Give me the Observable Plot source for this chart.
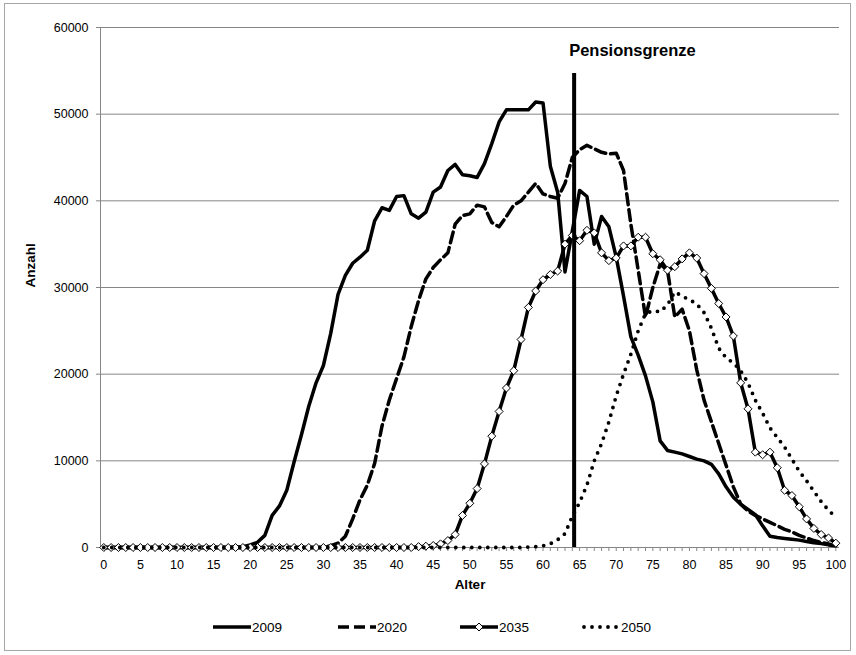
<!DOCTYPE html>
<html><head><meta charset="utf-8">
<script src="https://cdn.jsdelivr.net/npm/d3@7"></script>
<script src="https://cdn.jsdelivr.net/npm/@observablehq/plot@0.6"></script>
<style>
body{margin:0;background:#fff;}
#wrap{position:relative;width:856px;height:655px;font-family:"Liberation Sans",Arial,sans-serif;}
#frame{position:absolute;left:4px;top:3px;width:847px;height:648px;border:1px solid #a6a6a6;box-sizing:border-box;pointer-events:none;}
#chart{position:absolute;left:0;top:0;}
#legend{position:absolute;top:618px;left:0;width:856px;height:18px;font-size:13.5px;}
.item{position:absolute;top:0;display:flex;align-items:center;height:18px;gap:1px;}
.item svg{display:block;}
</style></head><body>
<div id="wrap"><div id="chart"></div><div id="legend"></div><div id="frame"></div></div>
<script>
const ages = d3.range(0, 101);
const seriesNames = ["2009", "2020", "2035", "2050"];
const y2009 = [0,0,0,0,0,0,0,0,0,0,0,0,0,0,0,0,0,0,
  50,100,300,600,1400,3700,4800,6600,9900,13000,16300,19000,21000,24700,29200,31400,32800,33500,34300,37700,39200,38900,
  40500,40600,38500,38000,38700,41000,41600,43500,44200,43000,42900,42700,44300,46600,49100,50500,50500,50500,50500,51400,
  51300,44000,41000,31800,36500,41200,40500,35000,38200,37000,33500,29000,24300,22200,19800,16800,12300,11200,11000,10800,
  10500,10200,10000,9600,8500,7000,5800,5000,4400,3800,2500,1300,1150,1050,950,850,700,550,450,300,200];
const y2020 = [0,0,0,0,0,0,0,0,0,0,0,0,0,0,0,0,0,0,0,0,0,0,0,0,0,0,0,0,0,0,0,
  200,500,1300,3300,5500,7200,9700,14000,17000,19500,22000,25500,28500,31000,32300,33200,34000,37300,38300,
  38500,39500,39300,37500,37000,38200,39500,40000,41000,42000,40800,40500,40300,42000,45000,45900,46400,46000,45600,45400,
  45500,43500,37300,32000,26600,30000,32700,32000,26600,27500,25000,20500,17000,14500,12000,9500,7000,5000,4200,3700,
  3300,2900,2500,2100,1800,1400,1100,800,600,400,200];
const y2035 = [0,0,0,0,0,0,0,0,0,0,0,0,0,0,0,0,0,0,0,0,0,0,0,0,0,0,0,0,0,0,0,0,0,0,0,0,0,0,0,0,0,0,0,
  100,150,230,420,800,1500,3700,5100,6800,9650,12850,15700,18400,20400,24000,27700,29600,
  30900,31500,31900,35000,36000,35400,36600,36300,34000,33100,33400,34800,34800,35800,35800,33900,33200,32000,32400,33300,
  34000,33400,31600,29900,28150,26600,24400,19000,16000,11000,10700,11000,9200,6600,6000,4700,3300,2200,1500,1100,500];
const y2050 = [0,0,0,0,0,0,0,0,0,0,0,0,0,0,0,0,0,0,0,0,0,0,0,0,0,0,0,0,0,0,0,0,0,0,0,0,0,0,0,0,0,0,0,0,0,0,0,0,0,0,0,0,0,0,0,0,0,0,
  50,100,200,430,900,1600,3600,5200,7200,10000,12000,14500,17500,20000,22300,25000,27000,27300,27200,28000,29500,29000,
  28600,28100,27100,25300,23000,21900,21300,20400,19000,17000,15500,13800,12700,11600,10200,8800,7700,6500,5300,4300,3500];
const yTicks = [0, 10000, 20000, 30000, 40000, 50000, 60000];
const xTickLabels = d3.range(0, 101, 5);
const pension = [{age: 64.25, top: 54700, labelY: 57300, label: "Pensionsgrenze"}];
const xTitle = "Alter";
const yTitle = "Anzahl";

const rows = (vals) => ages.map((a, i) => ({age: a, value: vals[i]}));
const r2009 = rows(y2009), r2020 = rows(y2020), r2035 = rows(y2035), r2050 = rows(y2050);

const grey = "#868686";
const font = '"Liberation Sans",Arial,sans-serif';
const chart = Plot.plot({
  width: 856, height: 600,
  marginLeft: 100, marginRight: 17, marginTop: 27, marginBottom: 53,
  style: {fontFamily: font, fontSize: "12.5px", color: "#000", background: "transparent", overflow: "visible"},
  x: {domain: [-0.45, 100.5]},
  y: {domain: [0, 60000]},
  marks: [
    Plot.gridY(yTicks, {stroke: grey, strokeOpacity: 1}),
    Plot.ruleX([-0.45], {stroke: grey}),
    Plot.ruleY([0], {stroke: grey}),
    Plot.axisY({ticks: yTicks, tickSize: 4, tickPadding: 8, label: null, stroke: grey, tickFormat: d => String(d)}),
    Plot.axisX({ticks: ages, tickSize: 4, tickPadding: 9, label: null, stroke: grey,
      tickFormat: d => xTickLabels.includes(d) ? String(d) : ""}),
    Plot.line(r2009, {x: "age", y: "value", stroke: "#000", strokeWidth: 3.5, strokeLinejoin: "round"}),
    Plot.line(r2020, {x: "age", y: "value", stroke: "#000", strokeWidth: 3.5, strokeDasharray: "11,5"}),
    Plot.line(r2035, {x: "age", y: "value", stroke: "#000", strokeWidth: 3.5, strokeLinejoin: "round"}),
    Plot.dot(r2035, {x: "age", y: "value", symbol: d3.symbolDiamond2, r: 3.6, fill: "#fff", stroke: "#000", strokeWidth: 1}),
    Plot.line(r2050, {x: "age", y: "value", stroke: "#000", strokeWidth: 3.8, strokeDasharray: "0,8", strokeLinecap: "round"}),
    Plot.ruleX(pension, {x: "age", y1: 0, y2: "top", stroke: "#000", strokeWidth: 4}),
    Plot.text(pension, {x: "age", y: "labelY", text: "label", textAnchor: "start", dx: -5, fontWeight: "bold", fontSize: 16.5}),
    Plot.text([xTitle], {frameAnchor: "bottom", dy: 37, lineAnchor: "middle", fontWeight: "bold", fontSize: 13.5}),
    Plot.text([yTitle], {frameAnchor: "left", dx: -70, rotate: -90, fontWeight: "bold", fontSize: 13.5})
  ]
});
document.getElementById("chart").append(chart);

// legend
const legendLeft = {"2009": 213, "2020": 338, "2035": 460, "2050": 582};
const ns = "http://www.w3.org/2000/svg";
function sample(name) {
  const svg = document.createElementNS(ns, "svg");
  svg.setAttribute("width", 38); svg.setAttribute("height", 12);
  const ln = document.createElementNS(ns, "line");
  ln.setAttribute("x1", name === "2050" ? 2 : 0); ln.setAttribute("x2", 38);
  ln.setAttribute("y1", 6); ln.setAttribute("y2", 6);
  ln.setAttribute("stroke", "#000");
  ln.setAttribute("stroke-width", name === "2050" ? 3.8 : 3.5);
  if (name === "2020") ln.setAttribute("stroke-dasharray", "11,5");
  if (name === "2050") { ln.setAttribute("stroke-dasharray", "0,8"); ln.setAttribute("stroke-linecap", "round"); }
  svg.append(ln);
  if (name === "2035") {
    const p = document.createElementNS(ns, "path");
    p.setAttribute("d", "M19,2 L23,6 L19,10 L15,6 Z");
    p.setAttribute("fill", "#fff"); p.setAttribute("stroke", "#000"); p.setAttribute("stroke-width", 1);
    svg.append(p);
  }
  return svg;
}
const legend = document.getElementById("legend");
for (const name of seriesNames) {
  const it = document.createElement("div");
  it.className = "item";
  it.style.left = legendLeft[name] + "px";
  it.append(sample(name));
  const t = document.createElement("span");
  t.textContent = name;
  it.append(t);
  legend.append(it);
}
</script>
</body></html>
